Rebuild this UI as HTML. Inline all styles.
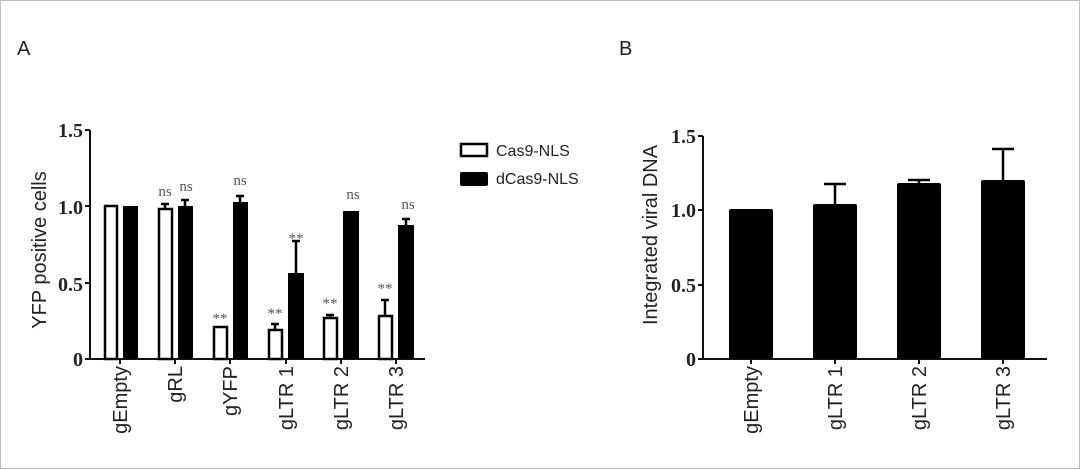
<!DOCTYPE html>
<html><head><meta charset="utf-8"><style>
html,body{margin:0;padding:0;background:#fff}
svg{display:block}
.t{font-family:"Liberation Serif",serif;font-weight:bold;font-size:20px;fill:#222}
.s{font-family:"Liberation Sans",sans-serif;fill:#222}
.ns{font-family:"Liberation Serif",serif;font-size:15px;fill:#555}
</style></head><body>
<svg width="1080" height="469" viewBox="0 0 1080 469" xmlns="http://www.w3.org/2000/svg">
<rect x="0.5" y="0.5" width="1079" height="468" fill="#fff" stroke="#bbb"/>
<text x="17" y="55" class="s" font-size="20">A</text>
<text x="619" y="55" class="s" font-size="20">B</text>

<g stroke="#111" stroke-width="2" fill="none">
<line x1="90" y1="130" x2="90" y2="359"/>
<line x1="90" y1="359" x2="425" y2="359"/>
<line x1="85" y1="130" x2="90" y2="130"/>
<line x1="85" y1="206" x2="90" y2="206"/>
<line x1="85" y1="283" x2="90" y2="283"/>
<line x1="85" y1="359" x2="90" y2="359"/>
<line x1="120" y1="359" x2="120" y2="364"/>
<line x1="175" y1="359" x2="175" y2="364"/>
<line x1="230" y1="359" x2="230" y2="364"/>
<line x1="286" y1="359" x2="286" y2="364"/>
<line x1="341" y1="359" x2="341" y2="364"/>
<line x1="396" y1="359" x2="396" y2="364"/>
</g>
<g class="t" text-anchor="end">
<text x="83" y="137">1.5</text><text x="83" y="214">1.0</text><text x="83" y="291">0.5</text><text x="83" y="366">0</text>
</g>
<text class="s" font-size="20" transform="translate(46,250) rotate(-90)" text-anchor="middle">YFP positive cells</text>
<g fill="#fff" stroke="#000" stroke-width="2.5">
<rect x="105" y="206" width="12" height="153"/>
<rect x="159" y="209" width="13" height="150"/>
<rect x="214" y="327" width="13" height="32"/>
<rect x="269" y="330" width="13" height="29"/>
<rect x="324" y="318" width="13" height="41"/>
<rect x="379" y="316" width="13" height="43"/>
</g>
<g fill="#000">
<rect x="123" y="206" width="15" height="153"/>
<rect x="178" y="206" width="15" height="153"/>
<rect x="233" y="202" width="15" height="157"/>
<rect x="288" y="273" width="16" height="86"/>
<rect x="343" y="211" width="16" height="148"/>
<rect x="398" y="225" width="16" height="134"/>
</g>
<g stroke="#000" stroke-width="2.5">
<line x1="165" y1="209" x2="165" y2="204"/><line x1="161" y1="204" x2="169" y2="204"/>
<line x1="185" y1="206" x2="185" y2="200"/><line x1="181" y1="200" x2="189" y2="200"/>
<line x1="240" y1="202" x2="240" y2="196"/><line x1="236" y1="196" x2="244" y2="196"/>
<line x1="275" y1="330" x2="275" y2="324"/><line x1="271" y1="324" x2="279" y2="324"/>
<line x1="296" y1="273" x2="296" y2="241"/><line x1="292" y1="241" x2="300" y2="241"/>
<line x1="330" y1="318" x2="330" y2="315"/><line x1="326" y1="315" x2="334" y2="315"/>
<line x1="385" y1="316" x2="385" y2="300"/><line x1="381" y1="300" x2="389" y2="300"/>
<line x1="406" y1="225" x2="406" y2="219"/><line x1="402" y1="219" x2="410" y2="219"/>
</g>
<g class="ns" text-anchor="middle">
<text x="165" y="196">ns</text><text x="186" y="191">ns</text><text x="240" y="185">ns</text>
<text x="353" y="199">ns</text><text x="408" y="209">ns</text>
<text x="220" y="323">**</text><text x="275" y="318">**</text><text x="296" y="243">**</text>
<text x="330" y="308">**</text><text x="385" y="293">**</text>
</g>
<g class="s" font-size="20" text-anchor="end">
<text transform="translate(127,366) rotate(-90)">gEmpty</text>
<text transform="translate(182,366) rotate(-90)">gRL</text>
<text transform="translate(237,366) rotate(-90)">gYFP</text>
<text transform="translate(293,366) rotate(-90)">gLTR 1</text>
<text transform="translate(348,366) rotate(-90)">gLTR 2</text>
<text transform="translate(403,366) rotate(-90)">gLTR 3</text>
</g>
<rect x="461" y="144" width="26" height="12" fill="#fff" stroke="#000" stroke-width="2.5"/>
<rect x="460" y="172" width="28" height="14" rx="2" fill="#000"/>
<text x="496" y="156" class="s" font-size="16">Cas9-NLS</text>
<text x="496" y="184" class="s" font-size="16">dCas9-NLS</text>

<g stroke="#111" stroke-width="2" fill="none">
<line x1="703" y1="136" x2="703" y2="359"/>
<line x1="703" y1="359" x2="1047" y2="359"/>
<line x1="698" y1="136" x2="703" y2="136"/>
<line x1="698" y1="210" x2="703" y2="210"/>
<line x1="698" y1="285" x2="703" y2="285"/>
<line x1="698" y1="359" x2="703" y2="359"/>
<line x1="751" y1="359" x2="751" y2="364"/>
<line x1="835" y1="359" x2="835" y2="364"/>
<line x1="919" y1="359" x2="919" y2="364"/>
<line x1="1003" y1="359" x2="1003" y2="364"/>
</g>
<g class="t" text-anchor="end">
<text x="696" y="143">1.5</text><text x="696" y="217">1.0</text><text x="696" y="292">0.5</text><text x="696" y="366">0</text>
</g>
<text class="s" font-size="20" transform="translate(657,235) rotate(-90)" text-anchor="middle">Integrated viral DNA</text>
<g fill="#000">
<rect x="729" y="209" width="44" height="150" rx="2"/>
<rect x="813" y="204" width="44" height="155" rx="2"/>
<rect x="897" y="183" width="44" height="176" rx="2"/>
<rect x="981" y="180" width="44" height="179" rx="2"/>
</g>
<g stroke="#000" stroke-width="2.5">
<line x1="835" y1="204" x2="835" y2="184"/><line x1="824" y1="184" x2="846" y2="184"/>
<line x1="919" y1="183" x2="919" y2="180"/><line x1="908" y1="180" x2="930" y2="180"/>
<line x1="1003" y1="180" x2="1003" y2="149"/><line x1="992" y1="149" x2="1014" y2="149"/>
</g>
<g class="s" font-size="20" text-anchor="end">
<text transform="translate(758,366) rotate(-90)">gEmpty</text>
<text transform="translate(842,366) rotate(-90)">gLTR 1</text>
<text transform="translate(926,366) rotate(-90)">gLTR 2</text>
<text transform="translate(1010,366) rotate(-90)">gLTR 3</text>
</g>
</svg>
</body></html>
